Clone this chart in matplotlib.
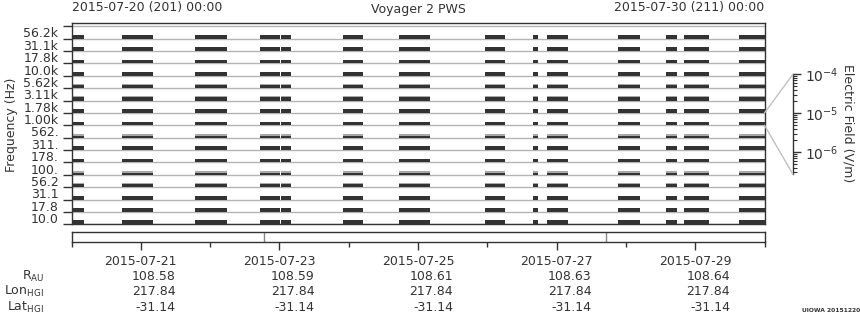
import numpy as np
import matplotlib
matplotlib.use("Agg")
import matplotlib.pyplot as plt
from matplotlib.patches import ConnectionPatch
from matplotlib.ticker import FixedLocator, NullFormatter, FixedFormatter, LogLocator
import matplotlib.transforms as mtrans

# ---------------- data ----------------
# frequency channels (bottom -> top)
channel_labels = ['10.0', '17.8', '31.1', '56.2', '100.', '178.', '311.', '562.',
                  '1.00k', '1.78k', '3.11k', '5.62k', '10.0k', '17.8k', '31.1k', '56.2k']
# data segments, hours after 2015-07-20 00:00
seg_start = [0.0, 17.5, 42.8, 65.3, 72.6, 94.0, 113.4, 143.2, 159.8, 164.7, 189.3, 205.9, 212.1, 231.2]
seg_end   = [4.3, 28.2, 53.9, 72.2, 76.0, 101.0, 124.2, 150.1, 161.6, 171.9, 196.9, 209.7, 220.8, 240.0]
# typical electric field level per channel (V/m), dark trace
dark_field = [2.1e-6, 1.6e-6, 1.6e-6, 1.2e-6, 7.5e-7, 1.6e-6, 1.6e-6, 6.5e-7,
              1.6e-6, 1.6e-6, 1.6e-6, 1.5e-6, 1.6e-6, 1.6e-6, 1.6e-6, 1.6e-6]
# upper (gray) envelope per channel (V/m), 0 = none
gray_field = [0, 0, 0, 1.6e-6, 1.8e-6, 0, 0, 1.8e-6,
              0, 0, 1.9e-6, 1.8e-6, 0, 0, 0, 0]
field_min, field_max = 10 ** -6.57, 1e-4
scale_channel = 8  # the channel whose band is expanded by the field scale

# time axis
major_hours = [24, 72, 120, 168, 216]
minor_hours = [0, 48, 96, 144, 192, 240]
date_labels = ['2015-07-21', '2015-07-23', '2015-07-25', '2015-07-27', '2015-07-29']
r_au = ['108.58', '108.59', '108.61', '108.63', '108.64']
lon_hgi = ['217.84', '217.84', '217.84', '217.84', '217.84']
lat_hgi = ['-31.14', '-31.14', '-31.14', '-31.14', '-31.14']
marker_hours = [66.8, 185.0]

# ---------------- figure ----------------
W, H = 860, 320
fig = plt.figure(figsize=(W / 100, H / 100), dpi=100)
dark = '#333333'
gray = '#b4b4b4'
fs = 9

def fx(px):
    return px / W

def fy(py):
    return 1 - py / H

ax = fig.add_axes([fx(71.5), fy(224.3), fx(764.5) - fx(71.5), fy(23.3) - fy(224.3)])
nch = len(channel_labels)
ax.set_xlim(0, 240)
ax.set_ylim(0, nch + 0.24)

def frac(E):
    return (np.log10(E) - np.log10(field_min)) / (np.log10(field_max) - np.log10(field_min))

for k in range(nch + 1):
    ax.axhline(k, color=gray, lw=1.0, zorder=1)

for k in range(nch):
    for s, e in zip(seg_start, seg_end):
        if gray_field[k] > 0:
            ax.fill_between([s, e], k, k + frac(gray_field[k]), color='#a8a8a8', lw=0, zorder=2)
        ax.fill_between([s, e], k, k + frac(dark_field[k]), color=dark, lw=0, zorder=3)

ax.yaxis.set_major_locator(FixedLocator(np.arange(0, nch + 1)))
ax.yaxis.set_major_formatter(NullFormatter())
ax.yaxis.set_minor_locator(FixedLocator(np.arange(nch) + 0.5))
ax.yaxis.set_minor_formatter(FixedFormatter(channel_labels))
ax.tick_params(axis='y', which='major', length=6.5, width=1, color=dark, direction='out')
ax.tick_params(axis='y', which='minor', length=0, pad=9.5, labelsize=fs, labelcolor=dark)
ax.set_xticks([])
for sp in ax.spines.values():
    sp.set_color(dark)
    sp.set_linewidth(1.0)

# lower strip
bax = fig.add_axes([fx(71.5), fy(242.3), fx(764.5) - fx(71.5), fy(231.7) - fy(242.3)])
bax.set_xlim(0, 240)
bax.set_ylim(0, 1)
bax.set_yticks([])
for m in marker_hours:
    bax.axvline(m, color='#888888', lw=1.0)
bax.set_xticks(major_hours)
bax.set_xticks(minor_hours, minor=True)
bax.set_xticklabels([])
bax.tick_params(axis='x', which='major', length=6, width=1, color=dark)
bax.tick_params(axis='x', which='minor', length=3.3, width=1, color=dark)
for sp in bax.spines.values():
    sp.set_color(dark)
    sp.set_linewidth(1.0)

# annotation rows
rows_y = [261.7, 276.7, 291.7, 307.3]
tr = mtrans.blended_transform_factory(bax.transData, fig.transFigure)
tr_off = mtrans.offset_copy(tr, fig=fig, x=35, y=0, units='dots')
for i, h in enumerate(major_hours):
    fig.text(h, fy(rows_y[0]), date_labels[i], transform=tr, ha='center', va='center', fontsize=fs, color=dark)
    for j, vals in enumerate([r_au, lon_hgi, lat_hgi]):
        fig.text(h, fy(rows_y[j + 1]), vals[i], transform=tr_off, ha='right', va='center', fontsize=fs, color=dark)

row_names = [r'R$_{\mathregular{AU}}$', r'Lon$_{\mathregular{HGI}}$', r'Lat$_{\mathregular{HGI}}$']
for j, nm in enumerate(row_names):
    fig.text(fx(44), fy(rows_y[j + 1]), nm, ha='right', va='center', fontsize=fs, color=dark)

# header texts
fig.text(fx(72.5), fy(8), '2015-07-20 (201) 00:00', ha='left', va='center', fontsize=fs, color=dark)
fig.text(fx(418), fy(10), 'Voyager 2 PWS', ha='center', va='center', fontsize=fs, color=dark)
fig.text(fx(764), fy(8), '2015-07-30 (211) 00:00', ha='right', va='center', fontsize=fs, color=dark)
fig.text(fx(12), fy(125), 'Frequency (Hz)', rotation=90, ha='center', va='center', fontsize=fs, color=dark)

# field scale
cax = fig.add_axes([fx(792.5), fy(174.3), 0.0005, fy(74.3) - fy(174.3)])
cax.set_yscale('log')
cax.set_ylim(field_min, field_max)
cax.set_xticks([])
for side in ['left', 'top', 'bottom']:
    cax.spines[side].set_visible(False)
cax.spines['right'].set_color(dark)
cax.spines['right'].set_linewidth(1.0)
cax.yaxis.tick_right()
cax.yaxis.set_major_locator(LogLocator(base=10, numticks=10))
cax.yaxis.set_minor_locator(LogLocator(base=10, subs=np.arange(2, 10), numticks=10))
cax.tick_params(axis='y', which='major', length=6, width=1, color=dark, pad=3, labelsize=fs + 1, labelcolor=dark)
cax.tick_params(axis='y', which='minor', length=3, width=0.8, color=dark, labelright=False)
fig.text(fx(848), fy(123), 'Electric Field (V/m)', rotation=270, ha='center', va='center', fontsize=fs, color=dark)

for ya, yb in [(scale_channel + 1, 1.0), (scale_channel, 0.0)]:
    con = ConnectionPatch(xyA=(240, ya), coordsA=ax.transData,
                          xyB=(1.0, yb), coordsB=cax.transAxes,
                          color='#c0c0c0', lw=1.0)
    fig.add_artist(con)

fig.text(fx(860), fy(311), 'UIOWA 20151220', ha='right', va='center', fontsize=4.3, fontweight='bold', color=dark)

fig.savefig('out.png', dpi=100)
